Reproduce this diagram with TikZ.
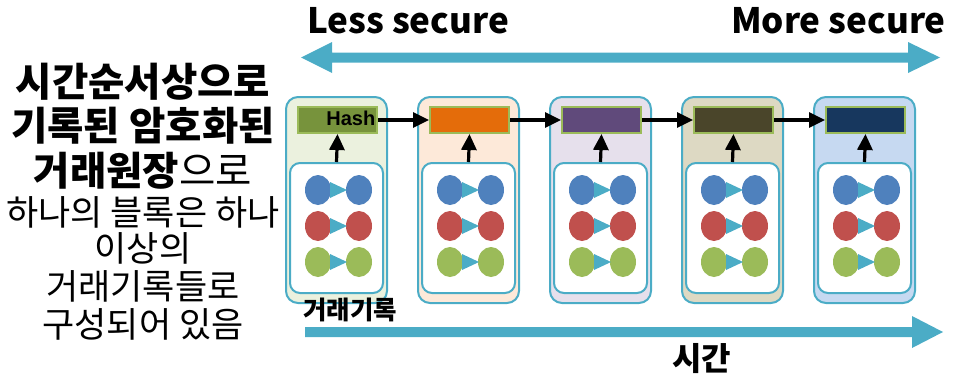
\documentclass[tikz,border=0pt]{standalone}
\usepackage{fontspec}
\setmainfont{Noto Sans CJK KR}
\newfontfamily\hashfont{Liberation Sans}
\usetikzlibrary{arrows.meta,shapes.geometric}

\definecolor{teal}{HTML}{4BACC6}
\definecolor{hashedge}{HTML}{9BBB59}
\definecolor{dotblue}{HTML}{4F81BD}
\definecolor{dotred}{HTML}{C0504D}
\definecolor{dotgreen}{HTML}{9BBB59}
\definecolor{bgA}{HTML}{EBF1DE}
\definecolor{bgB}{HTML}{FDE9D9}
\definecolor{bgC}{HTML}{E6E0EC}
\definecolor{bgD}{HTML}{DDD9C3}
\definecolor{bgE}{HTML}{C6D9F1}
\definecolor{hA}{HTML}{77933C}
\definecolor{hB}{HTML}{E46C0A}
\definecolor{hC}{HTML}{604A7B}
\definecolor{hD}{HTML}{4A452A}
\definecolor{hE}{HTML}{17375E}

\tikzset{
  blockbox/.style={draw=teal, line width=2pt, rounded corners=12pt,
    minimum width=101pt, minimum height=206pt, inner sep=0pt},
  txbox/.style={draw=teal, fill=white, line width=2pt, rounded corners=10pt,
    minimum width=93pt, minimum height=130pt, inner sep=0pt},
  hashbox/.style={draw=hashedge, line width=2pt,
    minimum width=79pt, minimum height=26pt, inner sep=0pt},
  dot/.style={ellipse, minimum width=26pt, minimum height=30pt, inner sep=0pt},
  link/.style={line width=3.2pt, -{Triangle[length=16pt,width=15pt]}},
  bigarrow/.style={fill=teal},
  boldline/.style={font=\bfseries\fontsize{39.5}{42}\selectfont, anchor=base, inner sep=0pt},
  plainline/.style={font=\fontsize{35}{38}\selectfont, anchor=base, inner sep=0pt},
}

\begin{document}
\begin{tikzpicture}[x=1pt, y=-1pt]
\useasboundingbox (0,0) rectangle (956,375);

% security scale
\fill[bigarrow] (301,57.5) -- (332,42) -- (332,52.5) -- (908,52.5) -- (908,42)
  -- (940,57.5) -- (908,73) -- (908,62.5) -- (332,62.5) -- (332,73) -- cycle;
\node[font=\bfseries\fontsize{35}{40}\selectfont, anchor=base west, inner sep=0pt]
  (less) at (307,33) {Less secure};
\node[font=\bfseries\fontsize{35}{40}\selectfont, anchor=base east, inner sep=0pt]
  (more) at (946,33) {More secure};

% time axis
\fill[bigarrow] (305,327) -- (912,327) -- (912,316) -- (943,332) -- (912,348)
  -- (912,337) -- (305,337) -- cycle;
\node[font=\bfseries\fontsize{32}{34}\selectfont, anchor=base, inner sep=0pt]
  (time) at (701.5,370) {시간};

% chain of blocks
\foreach \i/\bg/\hc in {0/bgA/hA, 1/bgB/hB, 2/bgC/hC, 3/bgD/hD, 4/bgE/hE} {
  \pgfmathsetmacro{\xo}{286+132*\i}
  \node[blockbox, fill=\bg] (blk\i) at (\xo+50.5,200) {};
  \node[txbox] (tx\i) at (\xo+50.5,228) {};
  \node[hashbox, fill=\hc] (hash\i) at (\xo+51.5,120) {};
  \foreach \r/\c in {0/dotblue, 1/dotred, 2/dotgreen} {
    \pgfmathsetmacro{\yr}{190+36*\r}
    \node[dot, fill=\c] (a\i\r) at (\xo+32,\yr) {};
    \node[dot, fill=\c] (b\i\r) at (\xo+73,\yr) {};
    \fill[teal] (\xo+44,\yr-8) -- (\xo+61,\yr) -- (\xo+44,\yr+8) -- cycle;
  }
  \draw[link] (tx\i.north) -- (hash\i.south);
}
\node[font=\hashfont\bfseries\fontsize{20}{22}\selectfont, anchor=base east, inner sep=0pt]
  (hashlbl) at (375.5,125.5) {Hash};
\foreach \i/\j in {0/1, 1/2, 2/3, 3/4}
  \draw[link] (hash\i.east) -- (hash\j.west);

% label over the first block's lower edge
\node[font=\bfseries\fontsize{25.5}{28}\selectfont, anchor=base west, inner sep=0pt]
  (txlabel) at (303,319) {거래기록};

% caption on the left
\node[boldline] (c1) at (143,96) {시간순서상으로};
\node[boldline] (c2) at (143,140) {기록된 암호화된};
\node[boldline] (c3) at (143,185) {거래원장\mdseries 으로};
\node[plainline] (c4) at (143,225) {하나의 블록은 하나};
\node[plainline] (c5) at (143,261) {이상의};
\node[plainline] (c6) at (143,299) {거래기록들로};
\node[plainline] (c7) at (143,337) {구성되어 있음};
\end{tikzpicture}
\end{document}
